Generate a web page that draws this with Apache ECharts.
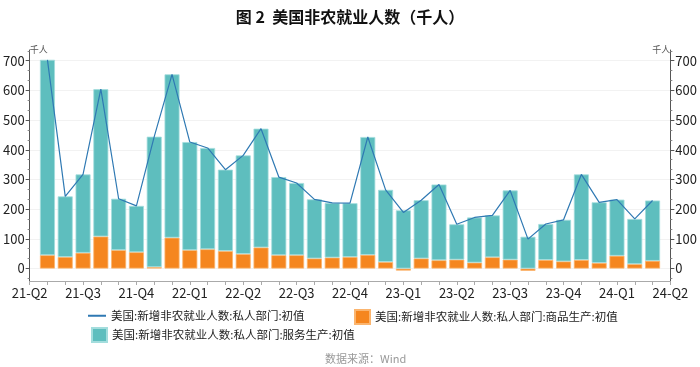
<!DOCTYPE html>
<html>
<head>
<meta charset="utf-8">
<script src="https://cdn.jsdelivr.net/npm/echarts@6/dist/echarts.min.js"></script>
<style>html,body{margin:0;padding:0;background:#fff}#c{width:700px;height:367px}</style>
</head>
<body>
<div id="c"></div>
<script>
// Months on the x axis (first and last are empty boundary months)
const months = ['2021-04','2021-05','2021-06','2021-07','2021-08','2021-09','2021-10','2021-11','2021-12',
  '2022-01','2022-02','2022-03','2022-04','2022-05','2022-06','2022-07','2022-08','2022-09','2022-10','2022-11','2022-12',
  '2023-01','2023-02','2023-03','2023-04','2023-05','2023-06','2023-07','2023-08','2023-09','2023-10','2023-11','2023-12',
  '2024-01','2024-02','2024-03','2024-04'];
// 美国:新增非农就业人数:私人部门:初值 (line)
const totalPrivate = [null,703,243,317,604,235,211,444,654,426,406,333,381,471,308,288,233,221,220,443,265,189,230,283,149,172,179,263,99,150,164,317,223,232,167,229,null];
// 商品生产 (orange)
const goods = [null,45,39,53,108,62,55,5,104,62,65,59,49,71,45,45,34,37,39,46,22,-7,34,28,30,20,38,30,-8,29,24,29,19,43,15,26,null];
// 服务生产 (teal)
const services = [null,658,204,264,496,173,156,439,550,364,341,274,332,400,263,243,199,184,181,397,243,196,196,255,119,152,141,233,107,121,140,288,204,189,152,203,null];
const yTicks = [0,100,200,300,400,500,600,700];

const names = ['美国:新增非农就业人数:私人部门:初值','美国:新增非农就业人数:私人部门:商品生产:初值','美国:新增非农就业人数:私人部门:服务生产:初值'];
const FONT = '"Noto Sans CJK SC","Noto Sans",sans-serif';

function qLabel(m){
  const y = m.slice(2,4), mo = parseInt(m.slice(5,7),10);
  return y + '-Q' + ((mo-1)/3+1);
}

const yAxisCommon = {
  type:'value', min:-42, max:736, splitNumber:8,
  axisLine:{show:true, onZero:false, lineStyle:{color:'#555'}},
  axisTick:{show:true, length:4, customValues:yTicks, lineStyle:{color:'#555'}},
  minorTick:{show:true, splitNumber:3, length:2, lineStyle:{color:'#888'}},
  axisLabel:{customValues:yTicks, color:'#222', fontSize:13, margin:5, fontFamily:FONT},
  splitLine:{show:true, lineStyle:{color:'#f2f2f2'}},
  name:'千人', nameLocation:'end', nameGap:-2,
};

const chart = echarts.init(document.getElementById('c'));
chart.setOption({
  animation:false,
  textStyle:{fontFamily:FONT},
  title:{text:'图 2  美国非农就业人数（千人）', left:'center', top:4,
    textStyle:{fontSize:16, fontWeight:'bold', color:'#111', fontFamily:FONT}},
  grid:{left:27, right:29, top:50, bottom:86},
  legend:[
    {data:[names[0]], left:83, top:305, icon:'rect', itemWidth:18, itemHeight:2,
      textStyle:{fontSize:11.5, color:'#222'}},
    {data:[names[1]], left:349, top:304, icon:'rect', itemWidth:15, itemHeight:14,
      textStyle:{fontSize:11.5, color:'#222'}},
    {data:[names[2]], left:86, top:322, icon:'rect', itemWidth:15, itemHeight:14,
      textStyle:{fontSize:11.5, color:'#222'}}
  ],
  xAxis:{type:'category', data:months, boundaryGap:false,
    axisLine:{show:true, onZero:false, lineStyle:{color:'#aaa'}},
    axisTick:{show:true, interval:0, length:4, lineStyle:{color:'#aaa'}},
    axisLabel:{interval:2, formatter:qLabel, color:'#222', fontSize:13, margin:6, fontFamily:FONT}
  },
  yAxis:[
    Object.assign({}, yAxisCommon, {position:'left',
      nameTextStyle:{fontSize:9, color:'#555', align:'left', verticalAlign:'middle'}}),
    Object.assign({}, yAxisCommon, {position:'right',
      splitLine:{show:false},
      nameTextStyle:{fontSize:9, color:'#555', align:'right', verticalAlign:'middle'}})
  ],
  series:[
    {name:names[1], type:'bar', stack:'s', data:goods, barWidth:15,
      itemStyle:{color:'#f5861f', borderColor:'#fbb56f', borderWidth:0.8}},
    {name:names[2], type:'bar', stack:'s', data:services, barWidth:15,
      itemStyle:{color:'#5ebebe', borderColor:'#a3dddd', borderWidth:0.8}},
    {name:names[0], type:'line', data:totalPrivate, showSymbol:false, symbol:'none',
      lineStyle:{color:'#2f79b3', width:1.2}, itemStyle:{color:'#2f79b3'}, z:5}
  ],
  graphic:[
    {type:'text', left:325, top:353, style:{text:'数据来源：Wind', fill:'#999', fontSize:11, fontFamily:FONT}}
  ]
});
</script>
</body>
</html>
